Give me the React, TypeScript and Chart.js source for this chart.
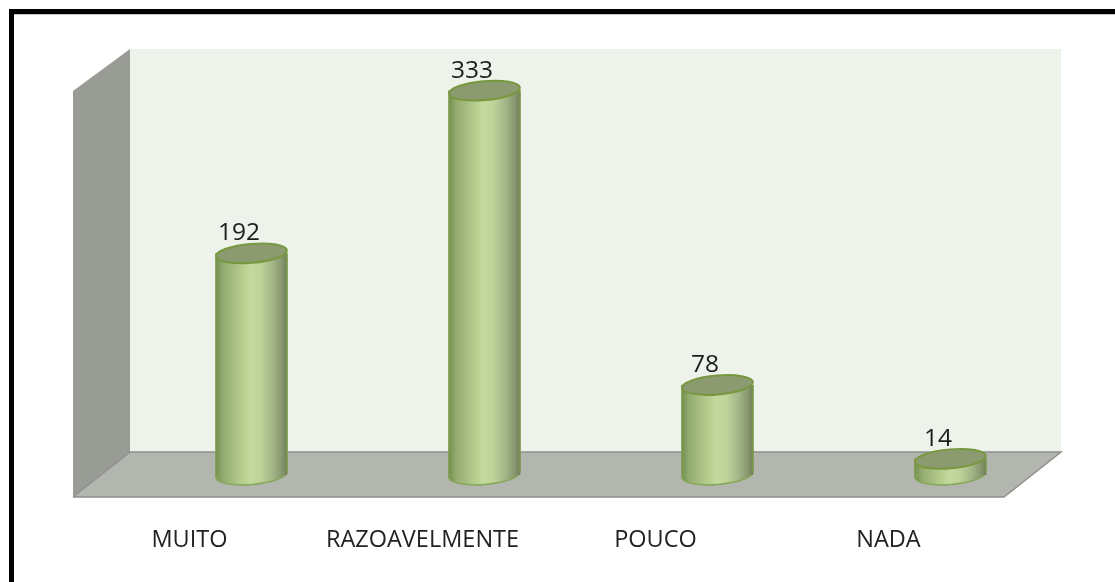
import React, { useEffect, useRef } from "react";
import { Chart, registerables } from "chart.js";

Chart.register(...registerables);

const categories = ["MUITO", "RAZOAVELMENTE", "POUCO", "NADA"];
const responses = [192, 333, 78, 14];

const W = 1115, H = 582;
const FONT = '"Open Sans", sans-serif';
const BAR = 71;
const TILT = -0.085;
const RY = 9.5;

function poly(c: CanvasRenderingContext2D, pts: number[][], fill: string) {
  c.beginPath();
  pts.forEach((p, i) => (i ? c.lineTo(p[0], p[1]) : c.moveTo(p[0], p[1])));
  c.closePath();
  c.fillStyle = fill;
  c.fill();
}

function barGradient(c: CanvasRenderingContext2D, cx: number) {
  const g = c.createLinearGradient(cx - BAR / 2, 0, cx + BAR / 2, 0);
  g.addColorStop(0, "#74904f");
  g.addColorStop(0.1, "#93ab70");
  g.addColorStop(0.3, "#aec487");
  g.addColorStop(0.48, "#c4d99c");
  g.addColorStop(0.62, "#bfd39a");
  g.addColorStop(0.8, "#a3b586");
  g.addColorStop(0.93, "#87966f");
  g.addColorStop(1, "#6f7f58");
  return g;
}

const scene = {
  id: "scene",
  beforeDraw(chart: any) {
    const c = chart.ctx as CanvasRenderingContext2D;
    const a = chart.chartArea;
    c.save();
    c.fillStyle = "#fff";
    c.fillRect(0, 0, W, H);
    const backL = a.left - 5, backR = backL + 931, backT = a.top - 22, backB = a.bottom - 23;
    const frontL = backL - 57, frontB = backB + 45, frontR = backR - 57, frontT = backT + 42;
    poly(c, [[backL, backT], [backR, backT], [backR, backB], [backL, backB]], "#edf3ea");
    poly(c, [[frontL, frontT], [backL, backT], [backL, backB], [frontL, frontB]], "#999b95");
    poly(c, [[backL, backB], [backR, backB], [frontR, frontB], [frontL, frontB]], "#b3b5af");
    c.strokeStyle = "#8f918c";
    c.lineWidth = 1.5;
    c.beginPath();
    c.moveTo(frontL, frontB); c.lineTo(backL, backB); c.lineTo(backR, backB); c.lineTo(frontR, frontB); c.lineTo(frontL, frontB);
    c.stroke();
    c.restore();
  },
  beforeDatasetsDraw(chart: any) {
    const c = chart.ctx as CanvasRenderingContext2D;
    const base = chart.scales.y.getPixelForValue(0);
    c.save();
    chart.getDatasetMeta(0).data.forEach((b: any) => {
      c.beginPath();
      c.ellipse(b.x, base, BAR / 2, RY, TILT, 0, Math.PI * 2);
      c.fillStyle = barGradient(c, b.x);
      c.fill();
      c.strokeStyle = "#86a85a";
      c.lineWidth = 1.5;
      c.stroke();
    });
    c.restore();
  },
  afterDatasetsDraw(chart: any) {
    const c = chart.ctx as CanvasRenderingContext2D;
    const base = chart.scales.y.getPixelForValue(0);
    c.save();
    chart.getDatasetMeta(0).data.forEach((b: any, i: number) => {
      c.strokeStyle = "#7c9a4c";
      c.lineWidth = 1.5;
      c.beginPath();
      c.moveTo(b.x - BAR / 2, b.y); c.lineTo(b.x - BAR / 2, base + 3);
      c.moveTo(b.x + BAR / 2, b.y); c.lineTo(b.x + BAR / 2, base - 3);
      c.stroke();
      c.beginPath();
      c.ellipse(b.x, b.y, BAR / 2, RY, TILT, 0, Math.PI * 2);
      c.fillStyle = "#8c9a70";
      c.fill();
      c.strokeStyle = "#77983f";
      c.lineWidth = 2;
      c.stroke();
      c.fillStyle = "#1c1c1c";
      c.font = `24.5px ${FONT}`;
      c.textAlign = "center";
      c.textBaseline = "middle";
      c.fillText(String(responses[i]), b.x - 12.5, b.y - 20);
    });
    c.restore();
  },
  afterDraw(chart: any) {
    const c = chart.ctx as CanvasRenderingContext2D;
    c.save();
    c.fillStyle = "#c4c4c4";
    c.fillRect(14, 14, W - 14, 1);
    c.fillStyle = "#000";
    c.fillRect(9, 9, W - 9, 5);
    c.fillRect(9, 9, 5, H - 9);
    c.restore();
  },
};

export default function App() {
  const ref = useRef<HTMLCanvasElement>(null);
  useEffect(() => {
    document.body.style.margin = "0";
    const chart = new Chart(ref.current!, {
      type: "bar",
      data: {
        labels: categories,
        datasets: [{
          data: responses,
          barThickness: BAR,
          borderWidth: 0,
          backgroundColor: (ctx: any) => {
            const x = ctx.chart.scales?.x?.getPixelForValue(ctx.dataIndex);
            if (!Number.isFinite(x)) return "#c4d99c";
            return barGradient(ctx.chart.ctx, x);
          },
        }],
      },
      options: {
        responsive: false,
        animation: false,
        layout: { padding: { left: 135, right: 48, top: 71, bottom: 0 } },
        plugins: { legend: { display: false }, tooltip: { enabled: false } },
        scales: {
          x: {
            grid: { display: false },
            border: { display: false },
            afterFit: (s: any) => { s.height = 107; },
            ticks: {
              color: "#222",
              font: { family: FONT, size: 23.5 },
              labelOffset: -62,
              padding: 43,
              maxRotation: 0,
              autoSkip: false,
            },
          },
          y: {
            min: 0,
            max: 350,
            display: false,
          },
        },
      },
      plugins: [scene],
    } as any);
    return () => chart.destroy();
  }, []);
  return <canvas ref={ref} width={W} height={H} style={{ display: "block" }} />;
}
